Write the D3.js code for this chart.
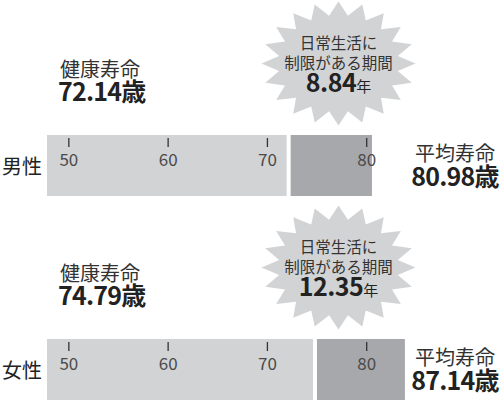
<!DOCTYPE html>
<html>
<head>
<meta charset="utf-8">
<script src="https://cdn.jsdelivr.net/npm/d3@7"></script>
<style>
  body { margin: 0; background: #fff; }
  svg { display: block; font-family: "Noto Sans CJK JP", "Noto Sans", sans-serif; }
</style>
</head>
<body>
<div id="chart"></div>
<script>
// data
const groups = ["男性", "女性"];
const healthyLife = [72.14, 74.79];
const lifeExpectancy = [80.98, 87.14];
const limitedYears = [8.84, 12.35];
const tickValues = [50, 60, 70, 80];
// axis breaks: the part past 80 is drawn compressed in the original
const axisDomain = [47.8, 80, 90];

const width = 500, height = 404;
const rowStep = 204;
const barTop = 135, barH = 61;

const svg = d3.select("#chart")
    .append("svg")
    .attr("width", width)
    .attr("height", height);

const x = d3.scaleLinear()
    .domain(axisDomain)
    .range([47, 366.7, 420.2]);

const fmt = d3.format(".2f");

// starburst path
function starPath(rx, ry, n, inner) {
    const pts = d3.range(n * 2).map(i => {
        const a = i * Math.PI / n - Math.PI / 2;
        const k = i % 2 ? inner : 1;
        return [Math.cos(a) * rx * k, Math.sin(a) * ry * k];
    });
    return d3.line()(pts) + "Z";
}

groups.forEach((name, i) => {
    const g = svg.append("g")
        .attr("transform", `translate(0,${i * rowStep})`);
    const h = healthyLife[i], t = lifeExpectancy[i];

    // bars
    g.append("rect")
        .attr("x", x(axisDomain[0]))
        .attr("y", barTop)
        .attr("width", x(h) - 2 - x(axisDomain[0]))
        .attr("height", barH)
        .attr("fill", "#d2d3d5");
    g.append("rect")
        .attr("x", x(h) + 2)
        .attr("y", barTop)
        .attr("width", x(t) - x(h) - 2)
        .attr("height", barH)
        .attr("fill", "#a7a8ab");

    // ticks
    const tk = g.append("g").selectAll("g")
        .data(tickValues)
        .join("g")
        .attr("transform", d => `translate(${x(d)},${barTop})`);
    tk.append("line")
        .attr("y1", 3).attr("y2", 12)
        .attr("stroke", "#333").attr("stroke-width", 1.3);
    tk.append("text")
        .attr("y", 31)
        .attr("text-anchor", "middle")
        .attr("font-size", 17)
        .attr("fill", "#4a4a4a")
        .text(d => d);

    // group label
    g.append("text")
        .attr("x", 2).attr("y", barTop + 39)
        .attr("font-size", 20)
        .attr("fill", "#222")
        .text(name);

    // healthy life label (two lines in one text)
    const hl = g.append("text")
        .attr("x", 60).attr("y", 77)
        .attr("fill", "#222");
    hl.append("tspan")
        .attr("font-size", 20)
        .attr("fill", "#333")
        .text("健康寿命");
    hl.append("tspan")
        .attr("x", 58).attr("dy", 24)
        .attr("font-size", 25)
        .attr("font-weight", "bold")
        .attr("letter-spacing", -0.8)
        .text(fmt(h) + "歳");

    // life expectancy label
    const tl = g.append("text")
        .attr("x", 455).attr("y", 161)
        .attr("text-anchor", "middle")
        .attr("fill", "#222");
    tl.append("tspan")
        .attr("font-size", 20)
        .attr("fill", "#333")
        .text("平均寿命");
    tl.append("tspan")
        .attr("x", 455).attr("dy", 25)
        .attr("font-size", 25)
        .attr("font-weight", "bold")
        .attr("letter-spacing", -0.8)
        .text(fmt(t) + "歳");

    // starburst
    const s = g.append("g").attr("transform", "translate(338.5,63.5)");
    s.append("path")
        .attr("d", starPath(77, 62, 20, 0.78))
        .attr("fill", "#d2d3d5");
    const st = s.append("text")
        .attr("y", -15)
        .attr("text-anchor", "middle")
        .attr("font-size", 15.5)
        .attr("fill", "#333");
    st.append("tspan").attr("x", 0).text("日常生活に");
    st.append("tspan").attr("x", 0).attr("dy", 20).text("制限がある期間");
    const num = st.append("tspan")
        .attr("x", 0).attr("dy", 23)
        .attr("fill", "#222");
    num.append("tspan")
        .attr("font-size", 25)
        .attr("font-weight", "bold")
        .attr("letter-spacing", -0.5)
        .text(fmt(limitedYears[i]));
    st.append("tspan")
        .attr("font-size", 15)
        .attr("fill", "#222")
        .text("年");
});
</script>
</body>
</html>
